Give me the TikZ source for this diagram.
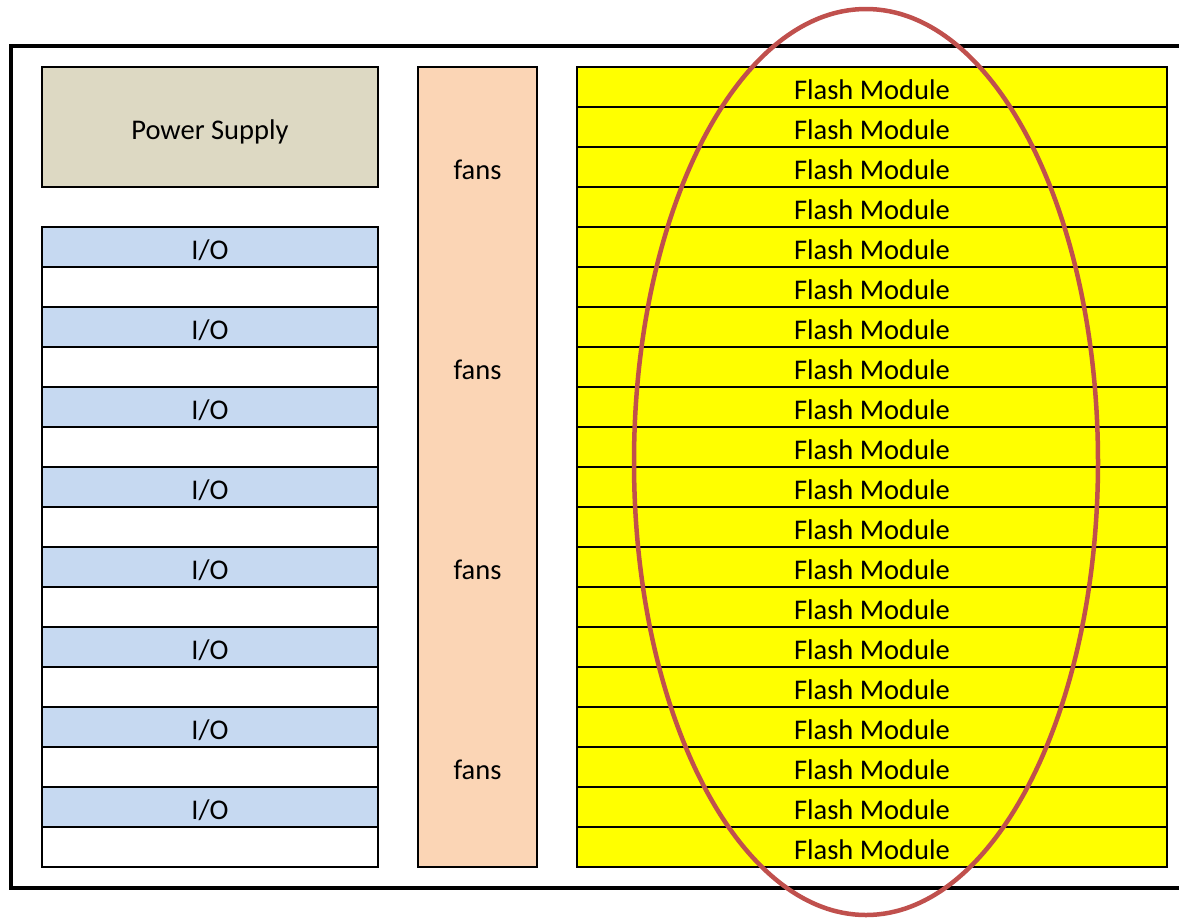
\documentclass[tikz,border=0pt]{standalone}
\usepackage{fontspec}
\setmainfont{Carlito}
\definecolor{psucol}{HTML}{DDD9C3}
\definecolor{iocol}{HTML}{C6D9F1}
\definecolor{fancol}{HTML}{FBD5B5}
\definecolor{flashcol}{HTML}{FFFF00}
\definecolor{ringcol}{HTML}{C0504D}

\begin{document}
\begin{tikzpicture}[x=1pt,y=-1pt,
  box/.style={draw,line width=2.5pt,anchor=north west,inner sep=0pt,outer sep=0pt,
    text height=24pt,text depth=0pt,font=\fontsize{28.5}{30}\selectfont},
  psu/.style={box,fill=psucol,minimum width=336pt,minimum height=120pt},
  io/.style={box,fill=iocol,minimum width=336pt,minimum height=40pt},
  slot/.style={box,fill=white,minimum width=336pt,minimum height=40pt},
  fan/.style={box,fill=fancol,minimum width=119pt,minimum height=800pt},
  fanlab/.style={inner sep=0pt,text height=24pt,text depth=0pt,
    font=\fontsize{28.5}{30}\selectfont},
  flash/.style={box,fill=flashcol,minimum width=590pt,minimum height=40pt},
  frame/.style={draw,line width=4pt},
  ring/.style={draw=ringcol,line width=4.5pt}]
  \useasboundingbox (0,0) rectangle (1179,919);
  \draw[frame] (1179,46) -- (11,46) -- (11,888) -- (1179,888);

  \node[psu] (psu) at (42,67) {Power Supply};
  \foreach \i in {0,...,7} {
    \node[io] (io\i) at (42,{227+80*\i}) {I/O};
    \node[slot] (sl\i) at (42,{267+80*\i}) {};
  }

  \node[fan] (fans) at (418,67) {};
  \foreach \i in {0,...,3}
    \node[fanlab] (fl\i) at (477.5,{167+200*\i}) {fans};

  \foreach \i in {0,...,19}
    \node[flash] (fm\i) at (577,{67+40*\i}) {Flash Module};

  \draw[ring] (866,462) ellipse [x radius=232pt,y radius=453pt];
\end{tikzpicture}
\end{document}
